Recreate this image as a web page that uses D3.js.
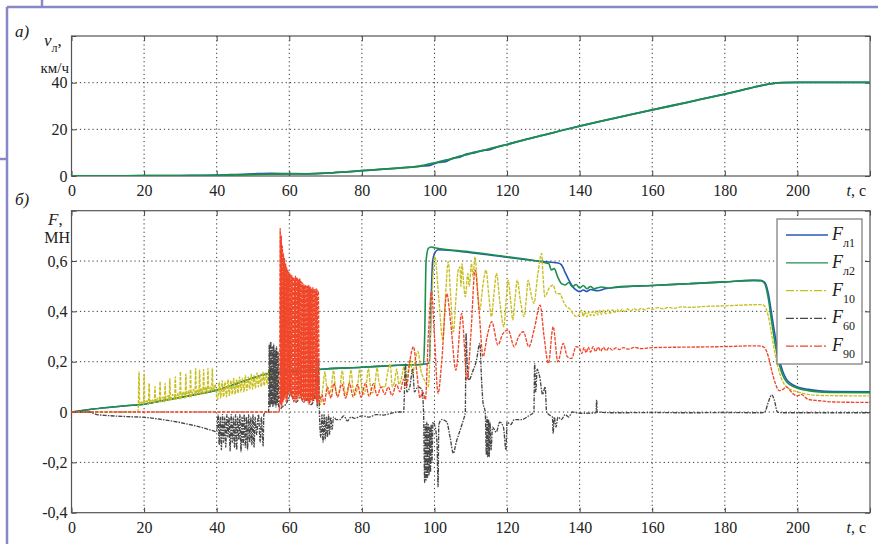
<!DOCTYPE html>
<html>
<head>
<meta charset="utf-8">
<script src="https://cdn.jsdelivr.net/npm/d3@7"></script>
<style>
body { margin: 0; background: #fff; }
svg { display: block; font-family: "Liberation Serif", "DejaVu Serif", serif; }
.grid line { stroke: #333; stroke-dasharray: 1.2,3; stroke-width: 1; }
.axis path { display: none; }
.axis line { stroke: #444; }
.axis text { font-size: 16px; fill: #222; font-family: "Liberation Serif", serif; }
</style>
</head>
<body>
<div id="plot"></div>
<script>
// ---- tick labels ----
const timeTicks = [0, 20, 40, 60, 80, 100, 120, 140, 160, 180, 200, 220];
const timeLabels = ["0", "20", "40", "60", "80", "100", "120", "140", "160", "180", "200", ""];
const speedTicks = [0, 20, 40, 60];
const speedLabels = ["0", "20", "40", ""];
const forceTicks = [-0.4, -0.2, 0, 0.2, 0.4, 0.6, 0.8];
const forceLabels = ["-0,4", "-0,2", "0", "0,2", "0,4", "0,6", ""];

// ---- a) speed, km/h ----
const speedL1 = [[0,0],[10,0.05],[20,0.1],[30,0.2],[40,0.35],[45,0.6],[50,0.9],[55,1.1],[60,1.0],[65,0.95],[70,1.2],[75,1.7],[80,2.3],[85,2.8],[90,3.4],[95,4.0],[97,4.3],[99,4.7],[101,5.8],[103,6.2],[105,7.6],[107,8.1],[109,9.5],[111,9.9],[113,10.9],[115,11.2],[117,12.3],[120,13.5],[125,15.6],[130,17.5],[135,19.5],[140,21.4],[150,24.9],[160,28.3],[170,31.7],[180,35.1],[185,36.9],[190,38.7],[193,39.6],[196,40.0],[200,40.1],[220,40.1]];
const speedL2 = [[0,0],[10,0.05],[20,0.1],[30,0.15],[40,0.3],[45,0.45],[50,0.6],[55,0.8],[60,0.9],[65,0.95],[70,1.2],[75,1.7],[80,2.3],[85,2.8],[90,3.4],[95,4.0],[97,4.6],[99,5.3],[101,6.0],[103,6.8],[105,7.4],[107,8.5],[109,9.2],[111,10.2],[113,10.8],[115,11.6],[117,12.4],[120,13.5],[125,15.6],[130,17.5],[135,19.5],[140,21.4],[150,24.9],[160,28.3],[170,31.7],[180,35.1],[185,36.9],[190,38.7],[193,39.6],[196,40.0],[200,40.1],[220,40.1]];

// ---- б) forces, MN ----
const forceL1 = [[0,0],[5,0.01],[10,0.018],[15,0.025],[20,0.031],[25,0.045],[30,0.058],[35,0.072],[40,0.087],[45,0.11],[50,0.135],[55,0.155],[60,0.16],[65,0.166],[70,0.171],[80,0.178],[90,0.186],[97,0.19],[98.6,0.195],[99.1,0.45],[99.5,0.6],[100.2,0.635],[101,0.645],[110,0.633],[120,0.615],[130,0.598],[134,0.592],[135,0.585],[136,0.555],[137,0.525],[138,0.5],[139,0.485],[140,0.478],[141,0.485],[142,0.479],[143,0.487],[145,0.482],[147,0.49],[150,0.495],[160,0.503],[170,0.51],[180,0.517],[188,0.523],[190,0.522],[191,0.515],[192,0.47],[193,0.38],[194,0.29],[195,0.21],[196,0.16],[197,0.13],[198,0.115],[200,0.1],[203,0.09],[206,0.084],[210,0.081],[220,0.08]];
const forceL2 = [[0,0],[5,0.01],[10,0.018],[15,0.025],[20,0.031],[25,0.045],[30,0.058],[35,0.072],[40,0.087],[45,0.11],[50,0.135],[55,0.155],[60,0.16],[65,0.166],[70,0.171],[80,0.178],[90,0.186],[97,0.19],[97.3,0.3],[97.7,0.6],[98.3,0.65],[99,0.656],[100,0.653],[110,0.636],[120,0.617],[130,0.595],[131.5,0.59],[132.2,0.565],[133,0.57],[134,0.535],[135,0.51],[136,0.505],[137,0.515],[138,0.498],[139,0.507],[140,0.493],[141,0.503],[142,0.49],[143,0.499],[144,0.49],[146,0.497],[148,0.492],[150,0.497],[160,0.503],[170,0.51],[180,0.517],[188,0.523],[190,0.522],[191,0.51],[192,0.45],[193,0.35],[194,0.26],[195,0.19],[196,0.145],[197,0.12],[198,0.108],[200,0.095],[203,0.085],[206,0.08],[210,0.078],[220,0.077]];
const force10 = [[0,0],[18.3,0],[18.4,0.025],[18.6,0.16],[18.8,0.03],[19.3,0.04],[19.8,0.03],[20.0,0.151],[20.2,0.035],[20.8,0.045],[21.2,0.03],[21.4,0.114],[21.6,0.035],[22.2,0.05],[22.8,0.035],[23.0,0.101],[23.2,0.04],[23.8,0.055],[24.2,0.04],[24.4,0.121],[24.6,0.04],[25.2,0.06],[25.6,0.04],[25.8,0.114],[26.0,0.045],[26.6,0.065],[26.9,0.045],[27.1,0.134],[27.3,0.045],[27.9,0.07],[28.4,0.05],[28.6,0.14],[28.8,0.05],[29.4,0.075],[29.8,0.05],[30.0,0.16],[30.2,0.055],[30.8,0.08],[31.3,0.055],[31.5,0.151],[31.7,0.06],[32.3,0.085],[32.6,0.06],[32.8,0.167],[33.0,0.06],[33.6,0.09],[34.0,0.065],[34.2,0.173],[34.4,0.065],[34.9,0.09],[35.1,0.07],[35.3,0.169],[35.5,0.07],[35.9,0.095],[36.2,0.07],[36.4,0.169],[36.6,0.075],[37.1,0.1],[37.4,0.075],[37.6,0.173],[37.8,0.08],[38.3,0.1],[38.6,0.08],[38.8,0.175],[39.0,0.085],[39.6,0.11],[40.0,0.06],
  [40.3,0.05],[40.7,0.12],[41.1,0.055],[41.5,0.125],[41.9,0.06],[42.3,0.12],[42.7,0.06],[43.1,0.13],[43.5,0.065],[43.9,0.125],[44.3,0.07],[44.7,0.135],[45.1,0.07],[45.5,0.13],[45.9,0.075],[46.3,0.14],[46.7,0.08],[47.1,0.135],[47.5,0.08],[47.9,0.145],[48.3,0.085],[48.7,0.14],[49.1,0.09],[49.5,0.15],[49.9,0.09],[50.3,0.145],[50.7,0.095],[51.1,0.155],[51.5,0.1],[51.9,0.15],[52.3,0.1],[52.7,0.16],[53.1,0.105],[53.5,0.155],[53.9,0.11],[54.3,0.165],[54.7,0.11],[55.1,0.17],[55.5,0.12],[56.2,0.15],[57,0.1],[60,0.08],[64,0.06],[68,0.05],
  [68.5,0.03],[69.3,0.1],[69.8,0.16],[70.3,0.1],[70.9,0.07],[71.6,0.1],[72.2,0.165],[72.7,0.1],[73.3,0.065],[74,0.1],[74.6,0.165],[75.1,0.1],[75.7,0.065],[76.4,0.1],[77,0.168],[77.5,0.1],[78.1,0.068],[78.8,0.1],[79.4,0.17],[79.9,0.105],[80.5,0.07],[81.2,0.105],[81.8,0.172],[82.3,0.11],[82.9,0.075],[83.6,0.11],[84.2,0.175],[84.7,0.12],[85.3,0.1],[86,0.1],[86.4,0.1],[87,0.15],[87.8,0.19],[88.4,0.1],[89,0.12],[89.6,0.17],[90.2,0.11],[91,0.14],[91.6,0.18],[92.2,0.12],[93.3,0.21],[94,0.15],[94.6,0.2],[95.5,0.24],[96.2,0.17],[96.8,0.14],[97.5,0.12],[98.3,0.1],
  [99.2,0.43],[100.1,0.617],[101.2,0.45],[102.3,0.286],[103,0.45],[103.8,0.597],[104.5,0.45],[105.2,0.319],[106,0.47],[106.5,0.56],[107,0.577],[107.3,0.5],[107.6,0.59],[108,0.52],[108.5,0.458],[109.2,0.55],[109.6,0.5],[110.2,0.59],[110.6,0.54],[111.2,0.617],[111.8,0.5],[112.5,0.405],[113.3,0.5],[114.2,0.564],[115,0.46],[115.7,0.379],[116.4,0.47],[117.1,0.551],[118,0.44],[119.1,0.339],[119.7,0.43],[120.3,0.524],[121,0.44],[121.6,0.366],[122.2,0.45],[122.8,0.524],[123.7,0.44],[124.7,0.379],[125.3,0.45],[125.8,0.524],[126.6,0.47],[127.4,0.432],[128.5,0.55],[129.5,0.63],[130,0.52],[130.4,0.458],[131.5,0.49],[132.7,0.505],[133.6,0.47],[134.6,0.47],[135.5,0.44],[136.4,0.418],[137.3,0.41],[138.2,0.39],[139.2,0.379],
  [140,0.39],[140.5,0.405],[141,0.38],[141.5,0.4],[142,0.378],[142.5,0.398],[143,0.383],[143.5,0.4],[144,0.382],[144.5,0.402],[145,0.386],[145.5,0.404],[146,0.388],[146.6,0.405],[147.2,0.39],[147.8,0.406],[148.4,0.392],[149,0.407],[149.6,0.395],[150.3,0.408],[151,0.397],[151.7,0.409],[152.4,0.399],[153.2,0.41],[154,0.401],[155,0.411],[156,0.404],[157,0.412],[158,0.406],[159,0.413],[160,0.408],[161.5,0.415],[163,0.41],[164.5,0.416],[166,0.412],[168,0.418],[170,0.416],[175,0.42],[180,0.422],[185,0.425],[190,0.427],[191,0.42],[192,0.38],[193,0.3],[194,0.22],[195,0.16],[196,0.12],[197,0.1],[198,0.09],[200,0.08],[203,0.07],[206,0.066],[210,0.065],[220,0.064]];
const force60 = [[0,0],[5,0],[6,-0.005],[7,-0.01],[10,-0.014],[15,-0.018],[20,-0.021],[25,-0.03],[30,-0.042],[35,-0.058],[38,-0.07],[40,-0.078],
  [40.4,-0.01],[40.7,-0.13],[41.0,-0.02],[41.3,-0.15],[41.6,-0.01],[41.9,-0.12],[42.2,-0.02],[42.5,-0.14],[42.8,-0.01],[43.1,-0.1],[43.4,-0.02],[43.7,-0.155],[44.0,-0.01],[44.3,-0.12],[44.6,-0.02],[44.9,-0.14],[45.2,-0.01],[45.5,-0.15],[45.8,-0.02],[46.1,-0.11],[46.4,-0.01],[46.7,-0.158],[47.0,-0.02],[47.3,-0.13],[47.6,-0.01],[47.9,-0.14],[48.2,-0.02],[48.5,-0.15],[48.8,-0.01],[49.1,-0.12],[49.4,-0.02],[49.7,-0.13],[50.0,-0.01],[50.3,-0.14],[50.6,-0.02],[51.0,-0.09],[51.5,-0.01],[52.0,-0.12],[52.3,-0.02],[52.8,-0.135],[53.0,-0.01],[53.5,0],[54.3,0],
  [54.5,0.27],[54.7,0.02],[54.9,0.28],[55.1,0.03],[55.3,0.26],[55.5,0.02],[55.7,0.27],[55.9,0.03],[56.1,0.25],[56.3,0.02],[56.5,0.26],[56.7,0.03],[56.9,0.24],[57.1,0.02],[57.4,0.01],[58,0.02],[59,0.03],[60,0.06],[60.5,0.08],[61,0.05],[62,0.04],[63,0.06],[64,0.04],[65,0.05],[66,0.03],[67,0.06],[67.4,0.17],[67.7,0.02],[68,0.21],[68.3,0.0],
  [68.7,-0.1],[69,-0.01],[69.3,-0.12],[69.6,-0.01],[69.9,-0.11],[70.2,-0.02],[70.5,-0.1],[70.8,-0.01],[71.1,-0.09],[71.4,-0.02],[71.8,-0.07],[72.2,-0.02],[73,-0.03],[74,-0.03],[75,-0.015],[76,-0.035],[77,-0.02],[78,-0.025],[80,-0.015],[82,-0.02],[84,-0.01],[86,-0.012],[88,-0.005],[90,0.0],[91.5,0.0],[92,0.19],[92.4,0.08],[93.2,0.1],[94,0.17],[94.5,0.08],[95.5,0.1],[96.5,0.09],[97,0],
  [97.3,-0.28],[97.5,-0.05],[97.7,-0.27],[97.9,-0.04],[98.1,-0.26],[98.3,-0.05],[98.5,-0.25],[98.7,-0.06],[98.9,-0.24],[99.1,-0.05],[99.3,-0.2],[99.6,-0.04],[100,-0.05],[100.7,-0.12],[101,-0.297],[101.2,-0.05],[102,-0.03],[103.4,-0.04],[104.3,-0.1],[105.2,-0.164],[106,-0.12],[107,-0.075],[108,-0.03],[108.5,0.0],[108.7,0.313],[109,0.2],[109.5,0.127],[110.5,0.16],[111.5,0.2],[112.5,0.273],[113,0.12],[113.4,0.035],[114,0],
  [114.3,-0.17],[114.5,-0.02],[114.7,-0.18],[114.9,-0.03],[115.1,-0.177],[115.3,-0.04],[115.6,-0.15],[116,-0.06],[117,-0.08],[118,-0.04],[119,-0.06],[119.7,-0.151],[120,-0.04],[121,-0.05],[122,-0.03],[124,-0.03],[126,-0.015],[127.4,0],[127.6,0.193],[127.9,0.08],[128.3,0.17],[129,0.14],[129.8,0.07],[130.5,0.1],[130.9,0.0],[131.5,-0.01],[132.5,-0.02],[132.7,-0.085],[133,-0.02],[133.5,-0.06],[134,-0.02],[135,-0.03],[136,-0.01],[137,-0.02],[138,0.0],[140,-0.005],[144.5,-0.003],[144.7,0.048],[144.8,0],[150,-0.003],[160,-0.002],[170,-0.003],[180,-0.002],[190,-0.003],[191,0],[192,0.04],[192.9,0.068],[193.6,0.05],[194.5,0.0],[196,-0.003],[220,-0.003]];
const force90 = [[0,0],[57.2,0],[57.35,0.03],
  [57.5,0.73],[57.65,0.03],[57.8,0.70],[57.95,0.02],[58.1,0.66],[58.25,0.04],[58.4,0.63],[58.55,0.05],[58.7,0.61],[58.85,0.06],[59.0,0.59],[59.15,0.04],[59.3,0.575],[59.45,0.05],[59.6,0.565],[59.75,0.07],[59.9,0.555],[60.05,0.08],[60.2,0.55],[60.35,0.07],[60.5,0.545],[60.65,0.06],[60.8,0.54],[60.95,0.05],[61.1,0.535],[61.25,0.04],[61.4,0.53],[61.55,0.05],[61.7,0.54],[61.85,0.04],[62.0,0.535],[62.15,0.05],[62.3,0.53],[62.45,0.06],[62.6,0.525],[62.75,0.07],[62.9,0.53],[63.05,0.06],[63.2,0.52],[63.35,0.05],[63.5,0.515],[63.65,0.04],[63.8,0.51],[63.95,0.05],[64.1,0.505],[64.25,0.04],[64.4,0.505],[64.55,0.05],[64.7,0.5],[64.85,0.05],[65.0,0.5],[65.15,0.04],[65.3,0.505],[65.45,0.03],[65.6,0.5],[65.75,0.04],[65.9,0.495],[66.05,0.05],[66.2,0.49],[66.35,0.04],[66.5,0.495],[66.65,0.05],[66.8,0.49],[66.95,0.06],[67.1,0.485],[67.25,0.05],[67.4,0.49],[67.55,0.04],[67.7,0.485],[67.85,0.03],[68.0,0.48],
  [68.3,0.04],[69,0.07],[69.6,0.03],[70.5,0.1],[71.5,0.055],[72.3,0.115],[73.3,0.06],[74.5,0.112],[75.5,0.055],[76.6,0.115],[77.6,0.06],[78.8,0.11],[79.8,0.058],[81,0.115],[82,0.062],[83.2,0.113],[84.2,0.065],[85.3,0.1],[86.3,0.07],[87.3,0.1],[88.3,0.065],[89.5,0.11],[90.5,0.08],[91.5,0.13],[92.3,0.1],[93.2,0.2],[94.2,0.26],[95.2,0.15],[96,0.056],[96.8,0.08],[97.5,0.05],[98.3,0.3],
  [99.2,0.478],[100,0.3],[101,0.074],[102,0.2],[103.4,0.47],[104.5,0.35],[105.9,0.167],[107.5,0.392],[109,0.127],[110,0.3],[111.2,0.564],[112.3,0.4],[113.4,0.22],[114.5,0.3],[115.8,0.359],[117.5,0.266],[118.8,0.31],[120.3,0.326],[122,0.259],[123.2,0.3],[124.5,0.319],[126,0.259],[127.5,0.33],[129.1,0.425],[130.2,0.3],[131.4,0.193],[132.7,0.339],[134,0.2],[135.5,0.273],[136.6,0.22],[137.8,0.213],[139,0.26],[140,0.253],[140.6,0.232],[141.2,0.256],[141.8,0.236],[142.4,0.258],[143,0.238],[143.7,0.26],[144.4,0.24],[145.1,0.258],[145.8,0.242],[146.5,0.257],[147.3,0.244],[148.1,0.256],[149,0.246],[150,0.255],[151,0.248],[152,0.256],[153.5,0.25],[155,0.257],[157,0.252],[160,0.256],[170,0.258],[180,0.26],[188,0.263],[190,0.262],[191,0.255],[192,0.22],[193,0.16],[194,0.11],[195,0.085],[196,0.09],[197,0.1],[198,0.085],[199,0.07],[200,0.065],[201,0.07],[203,0.05],[206,0.045],[210,0.04],[220,0.038]];

// set svg dimensions
const svgWidth = 878;
const svgHeight = 544;
const plotLeft = 71.5, plotRight = 870;

let svg = d3.select("#plot")
  .append("svg")
  .attr("width", svgWidth)
  .attr("height", svgHeight);

// page frame (purple rules)
const frameColor = "#8888c8";
[[7, 7, 878, 7], [7, 7, 7, 544], [42, 0, 42, 7], [0, 159, 7, 159]].forEach(function(l) {
  svg.append("line").attr("x1", l[0]).attr("y1", l[1]).attr("x2", l[2]).attr("y2", l[3])
    .attr("stroke", frameColor).attr("stroke-width", 2.5);
});

var x = d3.scaleLinear().domain([0, 220]).range([plotLeft, plotRight]);

function drawPanel(y, yTicks, yLabels, name) {
  const top = y.range()[1], bottom = y.range()[0];
  const g = svg.append("g");
  g.append("clipPath").attr("id", "clip-" + name)
    .append("rect").attr("x", plotLeft).attr("y", top)
    .attr("width", plotRight - plotLeft).attr("height", bottom - top);

  // grid
  const grid = g.append("g").attr("class", "grid");
  grid.selectAll(".vx").data(timeTicks.slice(1, -1)).enter().append("line")
    .attr("x1", d => x(d)).attr("x2", d => x(d)).attr("y1", top).attr("y2", bottom);
  grid.selectAll(".hy").data(yTicks.slice(1, -1)).enter().append("line")
    .attr("y1", d => y(d)).attr("y2", d => y(d)).attr("x1", plotLeft).attr("x2", plotRight);

  // axes, ticks inside on all four sides
  g.append("g").attr("class", "axis").attr("transform", "translate(0," + bottom + ")")
    .call(d3.axisBottom(x).tickValues(timeTicks).tickSize(-5).tickPadding(8.5)
      .tickFormat((d, i) => timeLabels[i]));
  g.append("g").attr("class", "axis").attr("transform", "translate(0," + top + ")")
    .call(d3.axisTop(x).tickValues(timeTicks).tickSize(-5).tickFormat(""));
  g.append("g").attr("class", "axis").attr("transform", "translate(" + plotLeft + ",0)")
    .call(d3.axisLeft(y).tickValues(yTicks).tickSize(-5).tickPadding(4)
      .tickFormat((d, i) => yLabels[i]));
  g.append("g").attr("class", "axis").attr("transform", "translate(" + plotRight + ",0)")
    .call(d3.axisRight(y).tickValues(yTicks).tickSize(-5).tickFormat(""));

  g.append("rect").attr("x", plotLeft).attr("y", top)
    .attr("width", plotRight - plotLeft).attr("height", bottom - top)
    .attr("fill", "none").attr("stroke", "#555").attr("stroke-width", 1.2);

  // "t, c" label at the right end of the time axis
  const tl = g.append("text").attr("x", 866).attr("y", bottom + 20)
    .attr("text-anchor", "end").attr("font-size", 16).attr("fill", "#222");
  tl.append("tspan").attr("font-style", "italic").text("t");
  tl.append("tspan").text(", с");
  return g;
}

function drawLine(g, data, y, color, width, dash, name) {
  g.append("path")
    .datum(data)
    .attr("clip-path", "url(#clip-" + name + ")")
    .attr("fill", "none")
    .attr("stroke", color)
    .attr("stroke-width", width)
    .attr("stroke-dasharray", dash)
    .attr("stroke-linejoin", "round")
    .attr("d", d3.line().curve(d3.curveMonotoneX).x(d => x(d[0])).y(d => y(d[1])));
}

const colL1 = "#2458b8", colL2 = "#1c9048", col10 = "#c8bf1e", col60 = "#474747", col90 = "#f0462a";

// ---- panel a) ----
var yTop = d3.scaleLinear().domain([0, 60]).range([176, 36]);
let gTop = drawPanel(yTop, speedTicks, speedLabels, "top");
drawLine(gTop, speedL1, yTop, colL1, 1.8, null, "top");
drawLine(gTop, speedL2, yTop, colL2, 1.8, null, "top");

// ---- panel б) ----
var yBot = d3.scaleLinear().domain([-0.4, 0.8]).range([512.7, 210.7]);
let gBot = drawPanel(yBot, forceTicks, forceLabels, "bot");
drawLine(gBot, forceL1, yBot, colL1, 1.6, null, "bot");
drawLine(gBot, forceL2, yBot, colL2, 1.6, null, "bot");
drawLine(gBot, force10, yBot, col10, 1.35, "3.5,1.2", "bot");
drawLine(gBot, force60, yBot, col60, 1.35, "4,1.2,1.5,1.2", "bot");
drawLine(gBot, force90, yBot, col90, 1.35, "3.5,1.2", "bot");

// panel captions and axis titles
function italicText(xp, yp, txt, size, anchor) {
  return svg.append("text").attr("x", xp).attr("y", yp).attr("font-size", size)
    .attr("font-style", "italic").attr("fill", "#222").attr("text-anchor", anchor || "start").text(txt);
}
italicText(15, 37, "а)", 17);
italicText(15, 205, "б)", 17);

let vl = svg.append("text").attr("x", 44).attr("y", 46).attr("font-size", 17).attr("fill", "#222");
vl.append("tspan").attr("font-style", "italic").text("v");
vl.append("tspan").attr("font-size", 12).attr("dy", 6).text("л");
vl.append("tspan").attr("dy", -6).text(",");
svg.append("text").attr("x", 69).attr("y", 73).attr("text-anchor", "end").attr("font-size", 15).attr("fill", "#222").text("км/ч");

let fl = svg.append("text").attr("x", 48).attr("y", 225).attr("font-size", 17).attr("fill", "#222");
fl.append("tspan").attr("font-style", "italic").text("F");
fl.append("tspan").text(",");
svg.append("text").attr("x", 70).attr("y", 243).attr("text-anchor", "end").attr("font-size", 16).attr("fill", "#222").text("МН");

// legend
const legendNames = ["л1", "л2", "10", "60", "90"];
const legendColors = [colL1, colL2, col10, col60, col90];
const legendDash = [null, null, "8,2,2,2", "8,2,2,2", "8,2,2,2"];
let leg = svg.append("g");
leg.append("rect").attr("x", 777).attr("y", 219).attr("width", 85).attr("height", 145)
  .attr("fill", "#fff").attr("stroke", "#777").attr("stroke-width", 1.2);
legendNames.forEach(function(n, i) {
  const ly = 235 + i * 27.8;
  leg.append("line").attr("x1", 786).attr("x2", 828).attr("y1", ly).attr("y2", ly)
    .attr("stroke", legendColors[i]).attr("stroke-width", 1.3).attr("stroke-dasharray", legendDash[i]);
  const t = leg.append("text").attr("x", 832).attr("y", ly + 5).attr("font-size", 18).attr("fill", "#222");
  t.append("tspan").attr("font-style", "italic").text("F");
  t.append("tspan").attr("font-size", 12).attr("dy", 7).text(n);
});
</script>
</body>
</html>
